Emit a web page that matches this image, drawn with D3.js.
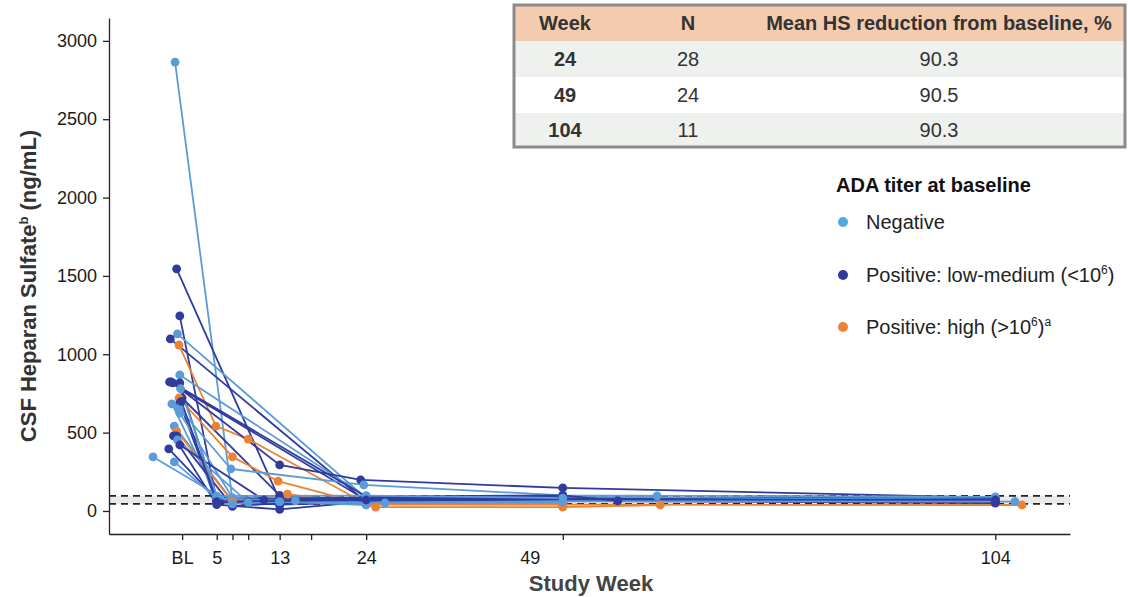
<!DOCTYPE html>
<html>
<head>
<meta charset="utf-8">
<script src="https://cdnjs.cloudflare.com/ajax/libs/d3/7.8.5/d3.min.js"></script>
<style>
  html, body { margin: 0; padding: 0; background: #fff; }
  svg { display: block; font-family: "Liberation Sans", Arial, Helvetica, sans-serif; }
</style>
</head>
<body>
<svg id="chart" width="1128" height="597"></svg>
<script>
// ---------------- DATA ----------------
const yTickValues = [0, 500, 1000, 1500, 2000, 2500, 3000];
const xTickWeeks  = [0.6, 5, 7, 9, 13, 17, 24, 49, 104];
const xTickLabels = ["BL", "5", "", "", "13", "", "24", "49", "104"];

const groupKeys   = ["neg", "low", "high"];
const groupLabels = ["Negative", "Positive: low-medium (<10", "Positive: high (>10"];
const groupColors = ["#5b9bd8", "#2f3c9e", "#ec8234"];
const legendDotColors = ["#4ea9e2", "#2f3c9e", "#ec8234"];

const normalRange = [45, 96];

const tableHeader = ["Week", "N", "Mean HS reduction from baseline, %"];
const tableWeeks  = ["24", "49", "104"];
const tableN      = ["28", "24", "11"];
const tableMean   = ["90.3", "90.5", "90.3"];

// patient group and [week, ng/mL] observations
const patientGroups = [
  "neg","low","low","neg","low","high","neg","low","low","low",
  "low","high","low","neg","neg","neg","neg","high","low","low",
  "neg","low","low","neg","neg","low","neg","low"
];
const patientSeries = [
  [[-0.3,2865],[7,72],[13,58],[24,52],[49,70],[104,65]],
  [[-0.1,1545],[13,70],[24,62],[49,85],[104,80]],
  [[0.3,1245],[5,62],[13,45],[24,75],[49,92]],
  [[0.0,1130],[24,82],[49,96],[61,96]],
  [[-0.9,1098],[24,58],[49,72],[104,55]],
  [[0.2,1059],[4.9,542],[9,459],[24,45],[49,40],[107.4,38]],
  [[0.3,868],[24,90],[49,88],[104,72]],
  [[-1.0,823],[24,70]],
  [[-0.6,817],[13,294],[23.3,198],[49,147],[104,85]],
  [[0.3,817],[5,72],[13,40],[24,55],[49,78]],
  [[0.6,721],[13,100],[24,68]],
  [[0.2,721],[7,345],[12.8,191],[25.2,25],[49,25],[61.4,38]],
  [[0.3,689],[5,50],[9,60],[24,65],[49,80],[104,60]],
  [[-0.7,683],[5,92],[13,70],[24,60],[49,60]],
  [[0.2,657],[6.8,268],[23.7,166],[49,100],[104,90]],
  [[0.3,625],[7,85],[13,75],[24,48],[49,55]],
  [[-0.4,542],[7,65],[13,55],[26.4,51],[49,50]],
  [[-0.1,510],[7,60],[14,108],[24,40],[49,42]],
  [[-0.5,479],[5,40],[13,10],[24,60],[49,70]],
  [[-0.1,479],[7,30],[13,50],[24,72],[49,65],[104,50]],
  [[0.0,453],[9,55],[13,62],[24,38]],
  [[0.3,421],[11,70],[24,80],[49,90]],
  [[-1.1,396],[5,75],[13,80],[24,85],[49,75],[104,70]],
  [[-3.1,345],[7,45],[13,60],[24,55],[49,58]],
  [[-0.4,313],[5,80],[15,65],[24,50],[49,62],[106.5,60]],
  [[-0.8,823],[24,92],[49,100],[56,64]],
  [[0.4,780],[5,95],[24,98],[49,82]],
  [[0.5,700],[5,60],[24,70]]
];

// ---------------- CHART ----------------
const svg = d3.select("#chart");
const colorOf = d3.scaleOrdinal().domain(groupKeys).range(groupColors);

const x = d3.scaleLinear().domain([-8.7, 113.5]).range([109, 1070]);
const y = d3.scaleLinear().domain([-147, 3146]).range([534, 18]);

// normal range band
svg.append("rect")
  .attr("x", x(-8.7)).attr("width", x(113.5) - x(-8.7))
  .attr("y", y(normalRange[1])).attr("height", y(normalRange[0]) - y(normalRange[1]))
  .attr("fill", "#e9e9e9");
normalRange.forEach(v => {
  svg.append("line")
    .attr("x1", x(-8.7)).attr("x2", x(113.5))
    .attr("y1", y(v)).attr("y2", y(v))
    .attr("stroke", "#222").attr("stroke-width", 1.6)
    .attr("stroke-dasharray", "7,5");
});

// axes
const yAxis = svg.append("g").attr("transform", `translate(${x(-8.7)},0)`)
  .call(d3.axisLeft(y).tickValues(yTickValues).tickSize(6).tickSizeOuter(0).tickPadding(6)
    .tickFormat(d3.format("d")));
const xAxis = svg.append("g").attr("transform", `translate(0,${y(-147)})`)
  .call(d3.axisBottom(x).tickValues(xTickWeeks).tickSize(6).tickSizeOuter(0).tickPadding(11)
    .tickFormat((d, i) => xTickLabels[i]));
[yAxis, xAxis].forEach(g => {
  g.selectAll("path, line").attr("stroke", "#222").attr("stroke-width", 1.3);
  g.selectAll("text").attr("font-size", 18).attr("fill", "#1a1a1a")
    .attr("font-family", "'Liberation Sans', Arial, sans-serif");
});
xAxis.selectAll("text").filter(function() { return d3.select(this).text() === "49"; })
  .attr("dx", -33);

// axis titles
const yt = svg.append("text")
  .attr("transform", `translate(36,286) rotate(-90)`)
  .attr("text-anchor", "middle").attr("font-size", 22).attr("font-weight", "bold").attr("fill", "#333");
yt.append("tspan").text("CSF Heparan Sulfate");
yt.append("tspan").text("b").attr("font-size", 13).attr("dy", -8);
yt.append("tspan").text(" (ng/mL)").attr("dy", 8);

svg.append("text").attr("x", 591).attr("y", 591)
  .attr("text-anchor", "middle").attr("font-size", 22).attr("font-weight", "bold").attr("fill", "#444")
  .text("Study Week");

// lines
const line = d3.line().x(d => x(d[0])).y(d => y(d[1]));
svg.append("g").selectAll("path").data(patientSeries).join("path")
  .attr("d", line)
  .attr("fill", "none")
  .attr("stroke", (d, i) => colorOf(patientGroups[i]))
  .attr("stroke-width", 1.8);

// points
const pts = patientSeries.flatMap((s, i) => s.map(p => ({ w: p[0], v: p[1], g: patientGroups[i] })));
svg.append("g").selectAll("circle").data(pts).join("circle")
  .attr("cx", d => x(d.w)).attr("cy", d => y(d.v)).attr("r", 4.4)
  .attr("fill", d => colorOf(d.g));

// table
const tX = 514, tW = 611;
const rowTops = [5, 41, 77, 113];
const rowH = [36, 36, 36, 34];
const rowFill = ["#f3ccb0", "#eff1ef", "#ffffff", "#eff1ef"];
const colX = [565, 688, 939];
const tbl = svg.append("g");
tbl.selectAll("rect.row").data(rowTops).join("rect").attr("class", "row")
  .attr("x", tX).attr("y", d => d).attr("width", tW).attr("height", (d, i) => rowH[i])
  .attr("fill", (d, i) => rowFill[i]);
tbl.append("rect").attr("x", tX).attr("y", rowTops[0]).attr("width", tW)
  .attr("height", rowTops[3] + rowH[3] - rowTops[0])
  .attr("fill", "none").attr("stroke", "#8a8a8a").attr("stroke-width", 3);
const tableRows = [tableHeader].concat(tableWeeks.map((w, i) => [w, tableN[i], tableMean[i]]));
tableRows.forEach((row, r) => {
  row.forEach((cell, c) => {
    tbl.append("text")
      .attr("x", colX[c]).attr("y", rowTops[r] + rowH[r] / 2 + 7)
      .attr("text-anchor", "middle").attr("font-size", 20)
      .attr("font-weight", (r === 0 || c === 0) ? "bold" : "normal")
      .attr("fill", "#333").text(cell);
  });
});

// legend
const lg = svg.append("g");
lg.append("text").attr("x", 836).attr("y", 192).attr("font-size", 20).attr("font-weight", "bold")
  .attr("fill", "#111").text("ADA titer at baseline");
const legendY = [222, 275, 327];
groupKeys.forEach((k, i) => {
  lg.append("circle").attr("cx", 843).attr("cy", legendY[i]).attr("r", 5).attr("fill", legendDotColors[i]);
  const t = lg.append("text").attr("x", 866).attr("y", legendY[i] + 7).attr("font-size", 20).attr("fill", "#222");
  t.append("tspan").text(groupLabels[i]);
  if (i === 1) {
    t.append("tspan").text("6").attr("font-size", 12).attr("dy", -8);
    t.append("tspan").text(")").attr("dy", 8);
  } else if (i === 2) {
    t.append("tspan").text("6").attr("font-size", 12).attr("dy", -8);
    t.append("tspan").text(")").attr("dy", 8);
    t.append("tspan").text("a").attr("font-size", 12).attr("dy", -8);
  }
});
</script>
</body>
</html>
